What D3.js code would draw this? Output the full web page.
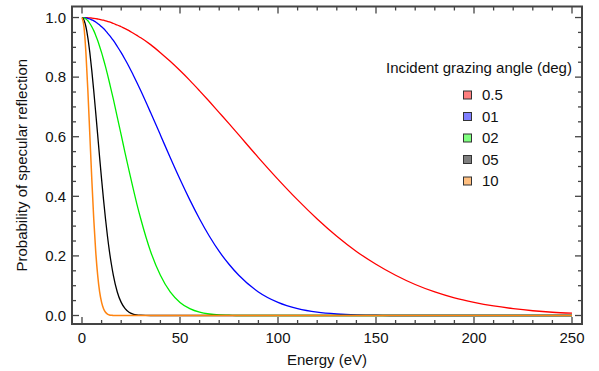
<!DOCTYPE html>
<html><head><meta charset="utf-8">
<script src="https://cdn.jsdelivr.net/npm/d3@7"></script>
<style>
html,body{margin:0;padding:0;background:#fff;}
svg text{font-family:"Liberation Sans",Arial,Helvetica,sans-serif;fill:#111;}
</style></head>
<body><svg id="chart" width="599" height="371"></svg>
<script>
const energy = [0,1,2,3,4,5,6,7,8,9,10,11,12,13,14,15,16,18,20,22,24,26,28,30,35,40,45,50,55,60,65,70,75,80,90,100,110,120,130,140,150,160,170,180,190,200,210,220,230,240,250];
const angleLabels = ["0.5","01","02","05","10"];
const p05 = [1,1.000,1.000,.999,.999,.998,.997,.996,.995,.994,.992,.991,.989,.987,.985,.983,.980,.975,.969,.963,.956,.948,.940,.932,.909,.882,.853,.822,.789,.754,.718,.681,.644,.606,.530,.457,.388,.324,.266,.215,.172,.135,.104,.079,.059,.044,.032,.023,.016,.011,.008];
const p01 = [1,1.000,.999,.997,.995,.992,.989,.985,.980,.975,.969,.963,.956,.948,.940,.932,.923,.903,.882,.859,.835,.809,.782,.754,.681,.606,.530,.457,.388,.324,.266,.215,.172,.135,.079,.044,.023,.011,.005,.002,.001,0,0,0,0,0,0,0,0,0,0];
const p02 = [1,.999,.995,.989,.980,.969,.956,.940,.923,.903,.882,.859,.835,.809,.782,.754,.726,.666,.606,.545,.486,.429,.374,.324,.215,.135,.079,.044,.023,.011,.005,.002,.001,0,0,0,0,0,0,0,0,0,0,0,0,0,0,0,0,0,0];
const p05deg = [1,.992,.969,.932,.882,.822,.754,.681,.606,.530,.457,.388,.324,.266,.215,.172,.135,.079,.044,.023,.011,.005,.002,.001,0,0,0,0,0,0,0,0,0,0,0,0,0,0,0,0,0,0,0,0,0,0,0,0,0,0,0];
const p10 = [1,.969,.882,.754,.606,.457,.324,.215,.135,.079,.044,.023,.011,.005,.002,.001,0,0,0,0,0,0,0,0,0,0,0,0,0,0,0,0,0,0,0,0,0,0,0,0,0,0,0,0,0,0,0,0,0,0,0];
const xMajorTicks = [0,50,100,150,200,250];
const yMajorTicks = [0,0.2,0.4,0.6,0.8,1.0];

const seriesValues = [p05,p01,p02,p05deg,p10];
const lineColors = ["#ff0000","#0000ff","#00ee00","#000000","#ff8410"];
const lineWidths = [1.3,1.3,1.3,1.3,1.5];
const swatchColors = ["#ff7f7f","#7f7fff","#7fff7f","#7f7f7f","#ffbf80"];

const svg = d3.select("#chart");
const L=72,R=582,T=6.5,B=324;
const x = d3.scaleLinear().domain([-5.1,255.1]).range([L,R]);
const y = d3.scaleLinear().domain([-0.0285,1.037]).range([B,T]);

svg.append("clipPath").attr("id","clip").append("rect")
  .attr("x",L).attr("y",T).attr("width",R-L).attr("height",B-T);

const line = d3.line().x(d=>x(d[0])).y(d=>y(d[1])).curve(d3.curveMonotoneX);
const g = svg.append("g").attr("clip-path","url(#clip)");
seriesValues.forEach((vals,i)=>{
  g.append("path").datum(energy.map((e,j)=>[e,vals[j]]))
   .attr("d",line).attr("fill","none").attr("stroke",lineColors[i])
   .attr("stroke-width",lineWidths[i]).attr("stroke-linejoin","round");
});

// ticks
const frameColor="#444";
const xMinor = d3.range(0,251,10).filter(v=>v%50!==0);
const yMinor = d3.range(0,21).map(i=>i*0.05).filter((v,i)=>i%4!==0);
const tk = svg.append("g").attr("stroke",frameColor).attr("stroke-width",1.3);
function xt(vals,len){vals.forEach(v=>{
  tk.append("line").attr("x1",x(v)).attr("x2",x(v)).attr("y1",B).attr("y2",B-len);
  tk.append("line").attr("x1",x(v)).attr("x2",x(v)).attr("y1",T).attr("y2",T+len);
});}
function yt(vals,len){vals.forEach(v=>{
  tk.append("line").attr("y1",y(v)).attr("y2",y(v)).attr("x1",L).attr("x2",L+len);
  tk.append("line").attr("y1",y(v)).attr("y2",y(v)).attr("x1",R).attr("x2",R-len);
});}
xt(xMajorTicks,7); xt(xMinor,4); yt(yMajorTicks,7); yt(yMinor,4);

svg.append("rect").attr("x",L).attr("y",T).attr("width",R-L).attr("height",B-T)
  .attr("fill","none").attr("stroke",frameColor).attr("stroke-width",2);

// tick labels
const fs = 15;
xMajorTicks.forEach(v=>{
  svg.append("text").attr("x",x(v)).attr("y",343).attr("text-anchor","middle")
    .attr("font-size",fs).text(d3.format("d")(v));
});
yMajorTicks.forEach(v=>{
  svg.append("text").attr("x",66).attr("y",y(v)+5.3).attr("text-anchor","end")
    .attr("font-size",fs).text(d3.format(".1f")(v));
});

svg.append("text").attr("x",(L+R)/2).attr("y",364.5).attr("text-anchor","middle")
  .attr("font-size",fs).text("Energy (eV)");
svg.append("text").attr("transform",`translate(27,${(T+B)/2}) rotate(-90)`)
  .attr("text-anchor","middle").attr("font-size",fs).text("Probability of specular reflection");

// legend
svg.append("text").attr("x",386).attr("y",72.5).attr("font-size",fs).text("Incident grazing angle (deg)");
angleLabels.forEach((lab,i)=>{
  const cy = 95 + i*21.5;
  svg.append("rect").attr("x",463.5).attr("y",cy-4).attr("width",8).attr("height",8)
    .attr("fill",swatchColors[i]).attr("stroke","#333").attr("stroke-width",1);
  svg.append("text").attr("x",482).attr("y",cy+5.3).attr("font-size",fs).text(lab);
});
</script></body></html>
